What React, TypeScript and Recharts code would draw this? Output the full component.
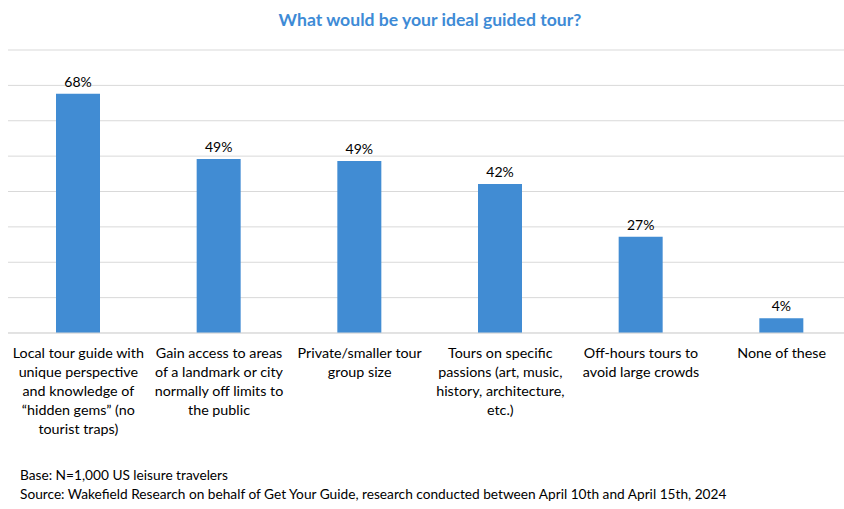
import React from 'react';
import { BarChart, Bar, XAxis, YAxis, CartesianGrid, LabelList } from 'recharts';

const categories = [
  'Local tour guide with|unique perspective|and knowledge of|\u201chidden gems\u201d (no|tourist traps)',
  'Gain access to areas|of a landmark or city|normally off limits to|the public',
  'Private/smaller tour|group size',
  'Tours on specific|passions (art, music,|history, architecture,|etc.)',
  'Off-hours tours to|avoid large crowds',
  'None of these',
];
const values = [67.6, 49.2, 48.6, 42.1, 27.2, 4.2];
const yTicks = [0, 10, 20, 30, 40, 50, 60, 70, 80];

const title = 'What would be your ideal guided tour?';
const footnotes = [
  'Base: N=1,000 US leisure travelers',
  'Source: Wakefield Research on behalf of Get Your Guide, research conducted between April 10th and April 15th, 2024',
];

const data = categories.map((c, i) => ({ name: c, value: values[i] }));
const FONT = 'Lato, "Open Sans", sans-serif';

const Tick = (props: any) => {
  const { x, y, payload } = props;
  const lines = String(payload.value).split('|');
  return (
    <text x={x} y={y} textAnchor="middle" fontFamily={FONT} fontSize={14.3} fill="#000">
      {lines.map((l, i) => (
        <tspan key={i} x={x} dy={i === 0 ? 17 : 19}>{l}</tspan>
      ))}
    </text>
  );
};

export default function App() {
  return (
    <div style={{ position: 'absolute', left: 0, top: 0, width: 844, height: 509, background: '#fff', overflow: 'hidden' }}>
      <div style={{ position: 'absolute', left: 0, top: 9, width: 860, textAlign: 'center', fontFamily: FONT, fontWeight: 700, fontSize: 17.6, color: '#3E8BD6' }}>
        {title}
      </div>
      <BarChart width={852} height={509} data={data} margin={{ top: 50, right: 0, left: 8, bottom: 0 }}>
        <CartesianGrid horizontal vertical={false} stroke="#d9d9d9" strokeWidth={1} />
        <YAxis hide domain={[0, 80]} ticks={yTicks} />
        <XAxis dataKey="name" height={176} tick={<Tick />} tickLine={false} axisLine={{ stroke: '#d9d9d9' }} interval={0} />
        <Bar dataKey="value" fill="#418CD3" barSize={44} isAnimationActive={false}>
          <LabelList dataKey="value" position="top" offset={7} formatter={(v: any) => `${Math.round(Number(v))}%`} style={{ fontFamily: FONT, fontSize: 14, fill: '#000' }} />
        </Bar>
      </BarChart>
      <div style={{ position: 'absolute', left: 20, top: 465, fontFamily: FONT, fontSize: 13.7, color: '#000', lineHeight: '19px' }}>
        {footnotes.map((f, i) => <div key={i} style={{ whiteSpace: 'nowrap' }}>{f}</div>)}
      </div>
    </div>
  );
}
